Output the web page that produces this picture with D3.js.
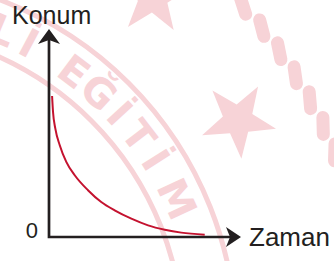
<!DOCTYPE html>
<html>
<head>
<meta charset="utf-8">
<script src="https://cdn.jsdelivr.net/npm/d3@7"></script>
<style>
  body { margin: 0; background: #fff; }
  svg { display: block; }
</style>
</head>
<body>
<svg width="334" height="261"></svg>
<script>
// position-time data
const times = [0.16, 0.21, 0.33, 0.56, 0.90, 1.34, 2.03, 2.72, 3.42, 4.29, 5.16, 6.03, 6.89, 8.11];
const positions = [6.78, 6.01, 5.21, 4.41, 3.61, 2.97, 2.25, 1.68, 1.28, 0.88, 0.56, 0.35, 0.21, 0.11];
const xLabel = 'Zaman';
const yLabel = 'Konum';
const originLabel = '0';

// watermark letters and angles (deg) around the seal
const sealLetters = ['L', 'İ', 'E', 'Ğ', 'İ', 'T', 'İ', 'M'];
const sealAngles = [-67, -62, -53, -47.5, -42.5, -37.5, -32.5, -25];

const svg = d3.select('svg');
const ink = '#231f20';
const red = '#c4122f';
const pink = '#f7d3d7';

const x = d3.scaleLinear().domain([0, 10]).range([49, 241]);
const y = d3.scaleLinear().domain([0, 10]).range([237, 29]);

// --- faint seal in the background ---
const C = [-130, 342];
const wm = svg.append('g');
const polar = (r, a) => [C[0] + r * Math.cos(a * Math.PI / 180), C[1] + r * Math.sin(a * Math.PI / 180)];

[313, 366].forEach((r) => {
  wm.append('circle')
    .attr('cx', C[0]).attr('cy', C[1]).attr('r', r)
    .attr('fill', 'none').attr('stroke', pink).attr('stroke-width', 5);
});

// rope ring
d3.range(-75, 10, 3.3).forEach((a) => {
  const [px, py] = polar(502, a);
  wm.append('rect')
    .attr('x', -6.5).attr('y', -15).attr('width', 13).attr('height', 30).attr('rx', 6.5)
    .attr('fill', pink)
    .attr('transform', `translate(${px},${py}) rotate(${a + 24})`);
});

function starPath(R, r, rot) {
  const pts = d3.range(10).map((i) => {
    const a = (rot + i * 36) * Math.PI / 180;
    const rr = i % 2 ? r : R;
    return [rr * Math.cos(a), rr * Math.sin(a)];
  });
  return d3.line()(pts) + 'Z';
}
wm.append('path').attr('d', starPath(39, 15.5, -59)).attr('fill', pink)
  .attr('transform', 'translate(238,120)');
wm.append('path').attr('d', starPath(39, 15.5, -14)).attr('fill', pink)
  .attr('transform', 'translate(153,-3)');

sealLetters.forEach((ch, i) => {
  const a = sealAngles[i];
  const [px, py] = polar(339, a);
  wm.append('text')
    .attr('transform', `translate(${px},${py}) rotate(${a + 90})`)
    .attr('text-anchor', 'middle')
    .attr('dy', '0.36em')
    .attr('font-family', 'DejaVu Sans, sans-serif')
    .attr('font-weight', 'bold')
    .attr('font-size', 40)
    .attr('fill', pink)
    .text(ch);
});

// --- axes ---
const x0 = x(0), y0 = y(0);
const g = svg.append('g');

g.append('path')
  .attr('d', `M${x0},${y(10) + 10}V${y0}H${x(10) - 10}`)
  .attr('fill', 'none').attr('stroke', ink).attr('stroke-width', 2.7)
  .attr('stroke-linejoin', 'miter');

// arrow heads
g.append('path')
  .attr('d', `M${x0},${y(10)}L${x0 + 11},${y(10) + 15}L${x0},${y(10) + 11}L${x0 - 11},${y(10) + 15}Z`)
  .attr('fill', ink);
g.append('path')
  .attr('d', `M${x(10)},${y0}L${x(10) - 15},${y0 - 10}L${x(10) - 11},${y0}L${x(10) - 15},${y0 + 10}Z`)
  .attr('fill', ink);

const font = 'Liberation Sans, Arial, Helvetica, sans-serif';
g.append('text')
  .attr('x', x0 - 37).attr('y', y(10) - 5)
  .attr('font-family', font).attr('font-size', 25).attr('fill', ink)
  .text(yLabel);
g.append('text')
  .attr('x', x(10) + 8).attr('y', y0 + 9)
  .attr('font-family', font).attr('font-size', 26).attr('fill', ink)
  .text(xLabel);
g.append('text')
  .attr('x', x0 - 11).attr('y', y0 + 1.3)
  .attr('text-anchor', 'end')
  .attr('font-family', font).attr('font-size', 22).attr('fill', ink)
  .text(originLabel);

// --- curve ---
const pts = times.map((t, i) => [t, positions[i]]);
svg.append('path')
  .datum(pts)
  .attr('fill', 'none')
  .attr('stroke', red)
  .attr('stroke-width', 2)
  .attr('d', d3.line().x((d) => x(d[0])).y((d) => y(d[1])).curve(d3.curveMonotoneX));
</script>
</body>
</html>
